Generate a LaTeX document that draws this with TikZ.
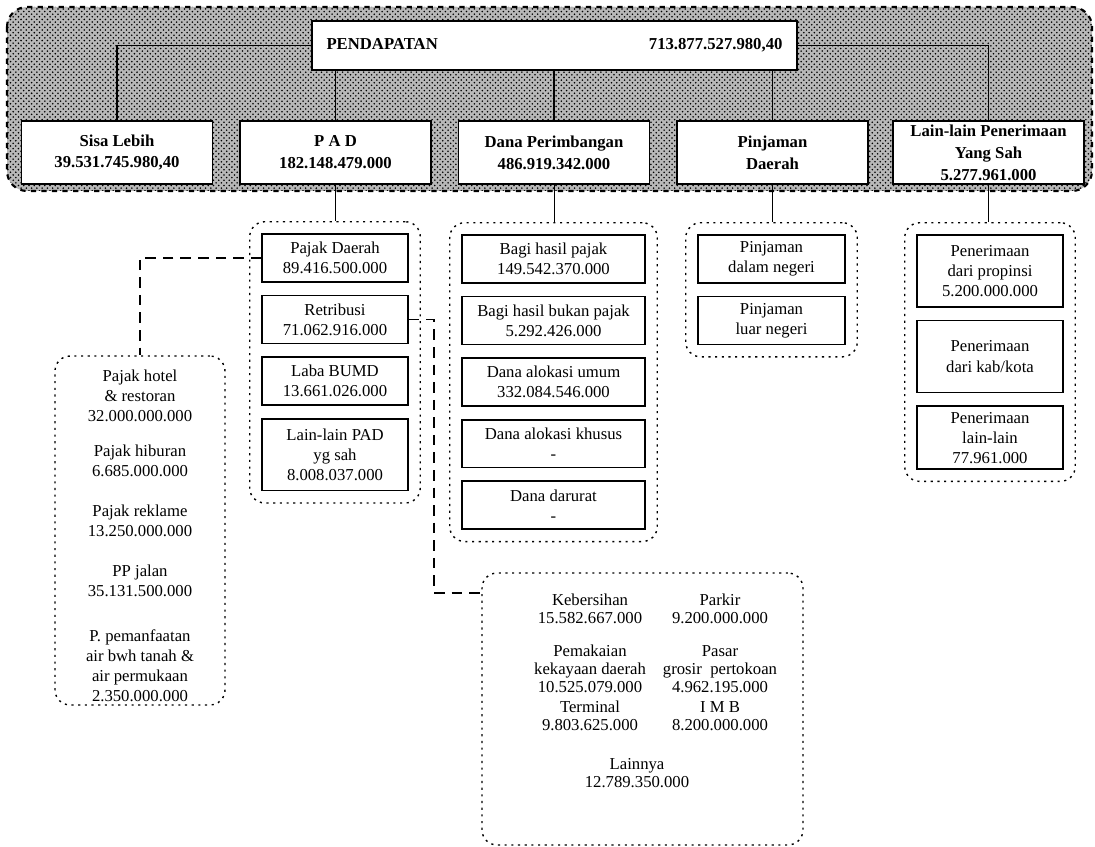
\documentclass[tikz,border=0pt]{standalone}
\usepackage{fontspec}
\setmainfont{Liberation Serif}
\usetikzlibrary{positioning,fit,patterns}

\begin{document}
\begin{tikzpicture}[
    x=0.02cm, y=-0.02cm,
    node distance=0.24cm,
    every node/.style={font=\fontsize{9.5}{11.4}\selectfont},
    head/.style={draw, line width=1.1pt, fill=white, align=center, font=\fontsize{9.5}{12.5}\selectfont\bfseries, minimum width=3.82cm, minimum height=1.26cm, inner sep=2pt},
    sub/.style={draw, line width=0.9pt, fill=white, align=center, minimum width=#1, minimum height=0.96cm, inner sep=1pt},
    sub/.default=2.92cm,
    group/.style={draw, rounded corners=0.3cm, line width=0.8pt, dash pattern=on 1.2pt off 2.6pt, inner sep=0.23cm},
    item/.style={align=center, font=\fontsize{9.5}{10.2}\selectfont, inner sep=0pt},
    link/.style={line width=0.7pt},
    stub/.style={line width=0.5pt},
    jump/.style={line width=0.9pt, dash pattern=on 6pt off 4pt}
]
\useasboundingbox (0,0) rectangle (1095,847);

% patterned band behind the first two levels
\draw[line width=1.2pt, dashed, rounded corners=0.4cm, preaction={fill=black!28}, pattern=crosshatch dots, pattern color=black] (7,7) rectangle (1092,191);

\node[draw, line width=1.1pt, fill=white, font=\fontsize{9.5}{11.4}\selectfont\bfseries, text width=9.12cm, inner xsep=0.29cm, minimum height=0.98cm] (pend) at (554.5,45.5) {PENDAPATAN\hfill 713.877.527.980,40};

\node[head] (sisa) at (117,152.5) {Sisa Lebih\\39.531.745.980,40};
\node[head] (pad) at (335.5,152.5) {P A D\\182.148.479.000};
\node[head] (dana) at (554,152.5) {Dana Perimbangan\\486.919.342.000};
\node[head] (pinj) at (772.5,152.5) {Pinjaman\\Daerah};
\node[head] (lain) at (988.5,152.5) {Lain-lain Penerimaan\\Yang Sah\\5.277.961.000};

\draw[link] (pend.west) -| (sisa.north);
\draw[link] (pad.north |- pend.south) -- (pad.north);
\draw[link] (dana.north |- pend.south) -- (dana.north);
\draw[link] (pinj.north |- pend.south) -- (pinj.north);
\draw[link] (pend.east) -| (lain.north);

% P A D
\node[sub] (pajak) at (335,258) {Pajak Daerah\\89.416.500.000};
\node[sub, below=of pajak] (retri) {Retribusi\\71.062.916.000};
\node[sub, below=of retri] (laba) {Laba BUMD\\13.661.026.000};
\node[sub, minimum height=1.44cm, below=of laba] (lainpad) {Lain-lain PAD\\yg sah\\8.008.037.000};
\node[group, fit=(pajak)(lainpad)] (padgrp) {};

% Dana Perimbangan
\node[sub=3.66cm] (danaA) at (553.5,259) {Bagi hasil pajak\\149.542.370.000};
\node[sub=3.66cm, below=of danaA] (danaB) {Bagi hasil bukan pajak\\5.292.426.000};
\node[sub=3.66cm, below=of danaB] (danaC) {Dana alokasi umum\\332.084.546.000};
\node[sub=3.66cm, below=of danaC] (danaD) {Dana alokasi khusus\\-};
\node[sub=3.66cm, below=of danaD] (danaE) {Dana darurat\\-};
\node[group, fit=(danaA)(danaE)] (danagrp) {};

% Pinjaman Daerah
\node[sub=2.94cm] (pinjA) at (771.5,259) {Pinjaman\\dalam negeri};
\node[sub=2.94cm, below=of pinjA] (pinjB) {Pinjaman\\luar negeri};
\node[group, fit=(pinjA)(pinjB)] (pinjgrp) {};

% Lain-lain Penerimaan
\node[sub, minimum height=1.44cm] (lainA) at (990,271) {Penerimaan\\dari propinsi\\5.200.000.000};
\node[sub, minimum height=1.44cm, below=of lainA] (lainB) {Penerimaan\\dari kab/kota};
\node[sub, minimum height=1.26cm, below=of lainB] (lainC) {Penerimaan\\lain-lain\\77.961.000};
\node[group, fit=(lainA)(lainC)] (laingrp) {};

\draw[stub] (pad.south) -- (pad.south |- padgrp.north);
\draw[stub] (dana.south) -- (dana.south |- danagrp.north);
\draw[stub] (pinj.south) -- (pinj.south |- pinjgrp.north);
\draw[stub] (lain.south) -- (lain.south |- laingrp.north);

% rincian pajak daerah
\node[group, minimum width=3.4cm, minimum height=6.98cm, inner sep=0pt] (pajakrinci) at (140,530.5) {};
\node[align=center, inner sep=0pt] (pajakteks) at (140,536) {Pajak hotel\\\& restoran\\32.000.000.000\\[0.3cm]Pajak hiburan\\6.685.000.000\\[0.4cm]Pajak reklame\\13.250.000.000\\[0.4cm]PP jalan\\35.131.500.000\\[0.5cm]P. pemanfaatan\\air bwh tanah \&\\air permukaan\\2.350.000.000};
\draw[jump] (pajak.west) -| (pajakrinci.north);

% rincian retribusi
\node[group, minimum width=6.42cm, minimum height=5.44cm, inner sep=0pt] (retrinci) at (642.5,709) {};
\node[item] (keber) at (590,609) {Kebersihan\\15.582.667.000};
\node[item] (parkir) at (720,609) {Parkir\\9.200.000.000};
\node[item] (pemakai) at (590,669) {Pemakaian\\kekayaan daerah\\10.525.079.000};
\node[item] (pasar) at (720,669) {Pasar\\grosir\enspace pertokoan\\4.962.195.000};
\node[item] (termi) at (590,716) {Terminal\\9.803.625.000};
\node[item] (imb) at (720,716) {I M B\\8.200.000.000};
\node[item] (lainnya) at (637,773) {Lainnya\\12.789.350.000};
\coordinate (rbend) at (434,593);
\draw[jump] (retri.east) -| (rbend) -- (rbend -| retrinci.west);
\end{tikzpicture}
\end{document}
